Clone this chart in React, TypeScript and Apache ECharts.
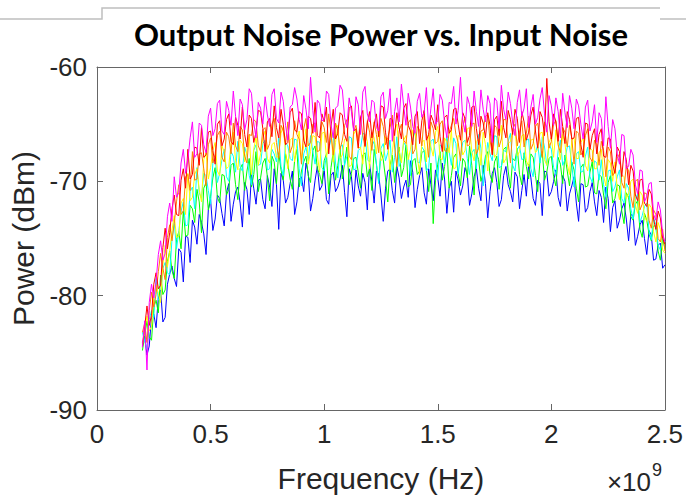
import React, { useEffect, useRef } from "react";
import * as echarts from "echarts";

// Frequency grid (units of 1e9 Hz)
const freqGHz = [
  0.2, 0.21, 0.22, 0.23, 0.24, 0.25, 0.26, 0.27, 0.28, 0.29,
  0.3, 0.31, 0.32, 0.33, 0.34, 0.35, 0.36, 0.37, 0.38, 0.39,
  0.4, 0.41, 0.42, 0.43, 0.44, 0.45, 0.46, 0.47, 0.48, 0.49,
  0.5, 0.51, 0.52, 0.53, 0.54, 0.55, 0.56, 0.57, 0.58, 0.59,
  0.6, 0.61, 0.62, 0.63, 0.64, 0.65, 0.66, 0.67, 0.68, 0.69,
  0.7, 0.71, 0.72, 0.73, 0.74, 0.75, 0.76, 0.77, 0.78, 0.79,
  0.8, 0.81, 0.82, 0.83, 0.84, 0.85, 0.86, 0.87, 0.88, 0.89,
  0.9, 0.91, 0.92, 0.93, 0.94, 0.95, 0.96, 0.97, 0.98, 0.99,
  1.0, 1.01, 1.02, 1.03, 1.04, 1.05, 1.06, 1.07, 1.08, 1.09,
  1.1, 1.11, 1.12, 1.13, 1.14, 1.15, 1.16, 1.17, 1.18, 1.19,
  1.2, 1.21, 1.22, 1.23, 1.24, 1.25, 1.26, 1.27, 1.28, 1.29,
  1.3, 1.31, 1.32, 1.33, 1.34, 1.35, 1.36, 1.37, 1.38, 1.39,
  1.4, 1.41, 1.42, 1.43, 1.44, 1.45, 1.46, 1.47, 1.48, 1.49,
  1.5, 1.51, 1.52, 1.53, 1.54, 1.55, 1.56, 1.57, 1.58, 1.59,
  1.6, 1.61, 1.62, 1.63, 1.64, 1.65, 1.66, 1.67, 1.68, 1.69,
  1.7, 1.71, 1.72, 1.73, 1.74, 1.75, 1.76, 1.77, 1.78, 1.79,
  1.8, 1.81, 1.82, 1.83, 1.84, 1.85, 1.86, 1.87, 1.88, 1.89,
  1.9, 1.91, 1.92, 1.93, 1.94, 1.95, 1.96, 1.97, 1.98, 1.99,
  2.0, 2.01, 2.02, 2.03, 2.04, 2.05, 2.06, 2.07, 2.08, 2.09,
  2.1, 2.11, 2.12, 2.13, 2.14, 2.15, 2.16, 2.17, 2.18, 2.19,
  2.2, 2.21, 2.22, 2.23, 2.24, 2.25, 2.26, 2.27, 2.28, 2.29,
  2.3, 2.31, 2.32, 2.33, 2.34, 2.35, 2.36, 2.37, 2.38, 2.39,
  2.4, 2.41, 2.42, 2.43, 2.44, 2.45, 2.46, 2.47, 2.48, 2.49,
  2.5,
];

const blueDbm = [
  -84.1, -83.6, -85.2, -84.4, -81.9, -81.6, -82.8, -80.2, -79.5, -82.3,
  -81.9, -79.0, -78.1, -77.4, -78.5, -79.2, -75.9, -76.2, -78.8, -74.8,
  -74.9, -77.1, -73.4, -74.0, -75.5, -72.9, -73.6, -74.6, -76.4, -72.5,
  -71.6, -74.3, -73.3, -71.2, -71.5, -72.8, -73.9, -71.0, -70.2, -73.5,
  -72.0, -70.9, -70.5, -71.9, -74.0, -70.1, -70.7, -72.9, -69.4, -70.6,
  -72.0, -69.9, -69.8, -71.6, -72.4, -69.5, -70.5, -72.2, -68.9, -70.3,
  -74.2, -69.3, -69.9, -71.9, -71.4, -70.2, -69.1, -72.9, -71.8, -69.8,
  -69.6, -70.9, -68.4, -69.3, -72.6, -71.5, -69.9, -68.7, -70.8, -70.4,
  -68.9, -71.6, -72.0, -69.5, -69.2, -70.9, -70.5, -69.8, -68.6, -71.0,
  -73.1, -68.9, -69.6, -71.8, -69.0, -70.4, -71.3, -69.3, -70.1, -72.5,
  -68.5, -70.0, -71.9, -69.1, -69.4, -71.2, -73.5, -70.6, -69.1, -68.9,
  -70.8, -71.9, -68.7, -69.7, -71.5, -70.5, -69.9, -71.4, -68.2, -69.2,
  -72.3, -70.7, -69.5, -68.8, -71.0, -72.0, -68.9, -70.3, -71.7, -69.0,
  -69.7, -71.3, -68.4, -69.8, -72.8, -70.6, -70.0, -72.7, -69.1, -69.9,
  -71.2, -70.4, -68.8, -69.4, -72.1, -71.1, -69.6, -68.9, -70.6, -71.7,
  -68.6, -70.2, -73.2, -70.9, -69.3, -68.8, -70.1, -72.2, -71.6, -69.5,
  -68.7, -70.3, -70.9, -71.8, -69.2, -69.6, -72.4, -70.8, -69.4, -71.3,
  -68.5, -69.7, -71.5, -72.1, -69.9, -70.2, -73.0, -69.1, -69.2, -71.3,
  -70.9, -70.0, -69.0, -71.4, -72.2, -69.5, -70.0, -72.6, -71.1, -70.4,
  -69.6, -71.9, -73.5, -70.2, -70.3, -72.7, -72.3, -70.9, -70.1, -71.8,
  -73.0, -70.8, -71.4, -73.6, -70.5, -71.5, -74.4, -72.3, -71.7, -74.1,
  -73.4, -72.4, -71.9, -73.3, -75.2, -72.9, -73.0, -75.6, -74.8, -73.8,
  -73.4, -75.0, -76.4, -74.3, -74.7, -76.9, -76.8, -75.6, -75.4, -77.6,
  -77.3,
];

const greenDbm = [
  -84.8, -83.5, -82.2, -83.6, -83.9, -81.0, -80.4, -81.5, -78.2, -79.9,
  -79.5, -77.0, -76.1, -77.8, -78.5, -75.1, -74.4, -75.9, -72.6, -74.8,
  -74.7, -72.1, -72.4, -73.6, -70.7, -71.8, -74.5, -70.6, -70.1, -72.5,
  -71.3, -69.7, -68.8, -71.4, -71.9, -69.4, -69.5, -71.2, -70.7, -68.6,
  -68.4, -70.3, -71.6, -68.9, -68.5, -70.8, -69.1, -68.0, -70.5, -69.4,
  -67.4, -70.9, -69.7, -68.4, -68.0, -69.6, -71.7, -67.8, -68.3, -70.2,
  -67.5, -69.0, -69.9, -67.6, -68.5, -69.8, -70.7, -68.1, -67.2, -70.5,
  -69.1, -68.3, -67.8, -69.5, -70.1, -67.3, -66.9, -68.9, -69.4, -70.2,
  -68.2, -67.6, -71.1, -68.8, -67.4, -69.9, -68.6, -67.1, -69.8, -68.4,
  -67.0, -70.3, -69.3, -68.0, -67.9, -69.2, -70.6, -67.7, -67.5, -69.6,
  -68.9, -70.8, -67.2, -68.5, -70.0, -67.4, -68.1, -69.7, -71.8, -68.6,
  -67.7, -70.1, -68.4, -67.0, -69.6, -68.8, -66.8, -70.5, -70.3, -68.2,
  -68.0, -69.4, -69.1, -67.5, -67.3, -69.0, -70.9, -68.4, -73.7, -69.9,
  -68.5, -67.4, -69.9, -68.7, -67.1, -70.6, -69.5, -67.9, -67.6, -69.3,
  -70.4, -68.0, -68.3, -69.7, -66.9, -68.6, -71.2, -67.5, -68.1, -70.0,
  -69.2, -67.8, -67.4, -69.4, -70.1, -68.3, -67.8, -70.7, -68.8, -67.2,
  -67.0, -69.1, -70.6, -68.0, -68.2, -67.1, -69.4, -70.3, -67.5, -68.7,
  -69.8, -67.6, -67.9, -69.5, -70.9, -68.2, -67.4, -69.9, -69.2, -68.0,
  -67.8, -69.6, -70.4, -67.9, -68.5, -70.2, -67.7, -69.1, -70.4, -68.3,
  -69.0, -70.6, -71.8, -68.8, -68.5, -70.5, -70.4, -69.2, -68.3, -71.0,
  -71.1, -69.4, -69.6, -71.2, -72.4, -70.1, -69.5, -71.9, -71.5, -70.3,
  -70.4, -72.6, -73.7, -71.0, -71.4, -73.1, -73.4, -72.0, -71.7, -74.2,
  -74.9, -72.8, -73.4, -74.6, -75.2, -73.9, -73.9, -76.1, -76.9, -75.0,
  -75.9,
];

const cyanDbm = [
  -83.2, -84.0, -84.7, -82.1, -81.3, -81.9, -78.5, -80.4, -80.1, -77.6,
  -77.1, -78.0, -78.2, -75.1, -73.6, -75.9, -74.4, -72.6, -71.8, -73.9,
  -73.8, -70.9, -70.5, -72.4, -68.8, -71.0, -71.5, -69.3, -69.5, -70.8,
  -72.0, -68.4, -67.9, -70.1, -69.3, -68.1, -67.2, -69.6, -70.0, -67.4,
  -67.8, -69.2, -66.5, -68.7, -69.1, -67.0, -67.7, -69.5, -70.3, -67.3,
  -66.8, -68.6, -68.5, -66.7, -66.4, -69.0, -68.9, -67.2, -67.6, -68.3,
  -66.1, -68.7, -69.5, -66.6, -66.9, -68.0, -68.2, -66.3, -66.4, -68.9,
  -70.4, -67.6, -67.0, -68.2, -66.0, -67.4, -68.5, -66.5, -66.6, -68.8,
  -69.1, -67.7, -67.2, -66.3, -65.8, -68.4, -69.7, -67.0, -66.8, -68.6,
  -67.8, -66.1, -66.2, -69.0, -68.9, -67.3, -67.1, -65.8, -65.9, -68.1,
  -68.3, -66.9, -66.5, -68.5, -70.2, -67.1, -66.7, -68.2, -67.5, -66.4,
  -69.2, -67.9, -66.1, -68.7, -68.1, -66.6, -66.9, -67.8, -69.5, -66.2,
  -65.7, -68.3, -68.4, -67.0, -67.3, -69.1, -68.8, -66.5, -66.3, -67.7,
  -69.9, -66.8, -67.0, -68.5, -66.0, -67.4, -68.6, -66.2, -66.7, -69.3,
  -67.9, -66.6, -66.4, -68.0, -69.4, -67.5, -67.2, -68.9, -65.9, -67.1,
  -70.4, -68.3, -66.6, -67.6, -68.2, -66.0, -66.1, -68.8, -68.7, -67.3,
  -67.4, -66.5, -65.8, -68.6, -69.1, -67.2, -66.9, -68.1, -68.0, -66.4,
  -66.3, -68.9, -69.6, -67.5, -66.8, -68.4, -66.1, -67.0, -68.6, -66.7,
  -67.2, -68.8, -69.4, -67.3, -66.4, -68.6, -68.1, -67.0, -66.9, -68.5,
  -70.5, -67.6, -67.4, -69.2, -69.1, -67.8, -67.0, -69.6, -70.1, -68.2,
  -68.4, -69.9, -68.1, -70.3, -71.4, -69.1, -69.0, -70.9, -70.5, -69.6,
  -69.0, -71.5, -71.9, -70.2, -70.6, -72.4, -73.3, -71.5, -71.1, -73.6,
  -73.0, -72.2, -71.9, -74.3, -75.1, -73.2, -73.8, -75.6, -76.0, -74.9,
  -75.3,
];

const yellowDbm = [
  -84.3, -82.9, -81.8, -83.1, -82.7, -80.1, -79.1, -79.8, -80.6, -77.3,
  -75.6, -77.5, -76.1, -74.3, -73.0, -74.9, -74.8, -71.9, -71.5, -72.9,
  -69.3, -71.7, -71.4, -69.4, -68.9, -70.7, -71.8, -68.1, -67.5, -69.8,
  -68.8, -67.3, -66.6, -69.1, -69.5, -66.9, -67.4, -68.9, -68.7, -66.6,
  -65.7, -68.2, -69.0, -66.4, -66.7, -68.3, -67.3, -65.9, -69.4, -67.2,
  -66.1, -68.6, -67.6, -66.2, -65.6, -68.0, -68.4, -66.8, -66.6, -67.9,
  -67.8, -65.8, -65.2, -67.5, -68.9, -66.4, -66.2, -68.3, -66.7, -65.6,
  -68.1, -66.9, -65.4, -68.5, -67.4, -66.0, -66.1, -67.7, -69.2, -65.8,
  -65.7, -67.9, -66.7, -65.4, -68.3, -66.6, -65.1, -68.0, -67.7, -66.3,
  -66.3, -68.7, -68.6, -65.9, -65.5, -67.1, -67.0, -68.5, -65.9, -66.5,
  -68.9, -65.7, -66.2, -67.6, -65.3, -68.2, -67.9, -66.1, -66.5, -69.0,
  -67.5, -65.6, -65.0, -67.3, -68.4, -66.4, -66.0, -68.1, -67.2, -65.5,
  -65.6, -67.8, -69.4, -66.6, -66.4, -68.3, -65.8, -67.0, -67.8, -65.7,
  -65.2, -68.0, -68.1, -66.2, -66.6, -67.5, -65.5, -68.9, -68.8, -66.0,
  -66.1, -67.7, -67.3, -65.4, -65.3, -67.4, -68.2, -66.5, -66.3, -68.6,
  -65.7, -66.8, -69.1, -65.9, -66.0, -67.9, -67.6, -66.2, -65.1, -68.4,
  -68.0, -66.7, -66.5, -65.6, -65.4, -67.8, -67.4, -66.0, -65.9, -68.2,
  -68.7, -66.4, -66.3, -67.5, -67.2, -65.8, -65.7, -68.1, -68.6, -66.6,
  -66.1, -67.9, -65.5, -66.8, -68.1, -65.9, -66.7, -68.5, -69.4, -66.4,
  -66.2, -68.0, -68.0, -66.6, -66.2, -68.6, -69.1, -67.1, -67.3, -68.9,
  -68.9, -67.5, -67.2, -69.5, -70.4, -68.1, -68.4, -70.0, -68.3, -70.6,
  -71.6, -69.4, -69.6, -71.5, -71.1, -70.0, -69.8, -72.1, -72.8, -70.9,
  -71.2, -73.1, -73.5, -72.0, -72.3, -74.4, -75.3, -73.6, -74.2, -76.0,
  -76.3,
];

const orangeDbm = [
  -83.2, -82.4, -84.1, -81.3, -79.7, -81.0, -79.9, -77.9, -76.3, -77.6,
  -78.6, -74.9, -73.8, -75.2, -73.7, -71.8, -70.3, -72.9, -72.6, -69.6,
  -69.4, -70.8, -67.4, -69.9, -69.8, -67.6, -67.5, -68.9, -70.4, -66.8,
  -66.2, -68.4, -67.6, -66.0, -65.6, -67.9, -68.3, -65.7, -66.1, -67.6,
  -64.9, -66.9, -67.4, -65.2, -65.5, -67.8, -68.4, -65.9, -66.0, -64.6,
  -64.8, -66.9, -67.4, -65.5, -65.3, -67.2, -66.7, -65.0, -64.5, -66.6,
  -68.0, -65.1, -65.6, -66.8, -64.8, -67.5, -66.9, -64.7, -65.9, -66.3,
  -68.5, -65.4, -64.5, -66.9, -66.6, -65.0, -64.9, -67.4, -67.3, -64.8,
  -65.3, -66.6, -64.1, -65.8, -67.7, -64.9, -65.6, -67.2, -66.4, -65.1,
  -64.6, -67.8, -68.1, -65.6, -65.1, -66.5, -64.4, -66.0, -67.0, -64.7,
  -65.7, -67.3, -64.8, -65.9, -67.5, -64.5, -65.2, -66.8, -66.2, -65.3,
  -64.2, -67.0, -68.7, -65.6, -65.0, -66.4, -66.7, -64.9, -64.6, -67.6,
  -67.2, -65.2, -65.5, -66.9, -64.3, -65.8, -67.9, -64.8, -65.4, -66.7,
  -66.5, -65.0, -64.7, -67.3, -67.4, -65.7, -65.1, -64.5, -65.9, -66.6,
  -68.2, -65.3, -64.4, -66.9, -66.8, -65.0, -64.9, -67.6, -67.1, -65.6,
  -65.5, -64.3, -64.2, -66.4, -67.6, -65.1, -65.3, -67.0, -66.3, -64.6,
  -64.6, -66.6, -68.4, -65.4, -65.0, -66.9, -65.7, -64.7, -67.0, -65.8,
  -64.3, -67.2, -66.7, -65.2, -64.9, -66.5, -67.9, -64.8, -65.3, -67.1,
  -66.5, -65.0, -64.7, -66.8, -67.5, -65.3, -65.7, -67.0, -65.1, -66.2,
  -68.5, -65.6, -65.8, -67.7, -67.3, -66.0, -65.4, -67.9, -68.3, -66.4,
  -66.8, -68.6, -66.5, -67.3, -69.6, -67.0, -67.4, -69.5, -69.2, -68.0,
  -67.6, -70.1, -70.6, -68.6, -69.1, -71.3, -72.3, -70.0, -69.8, -72.5,
  -72.0, -71.0, -71.1, -73.4, -74.1, -72.5, -72.9, -75.0, -75.3, -74.2,
  -76.1,
];

const redDbm = [
  -84.5, -82.7, -80.9, -82.6, -81.7, -79.0, -78.0, -79.4, -79.1, -75.8,
  -74.1, -75.9, -74.5, -72.4, -71.2, -72.9, -73.0, -69.9, -68.9, -70.6,
  -67.2, -69.8, -69.4, -67.0, -67.1, -68.6, -65.3, -67.9, -67.7, -65.7,
  -65.6, -67.3, -68.5, -65.0, -64.7, -66.9, -66.3, -64.6, -64.1, -66.5,
  -66.8, -64.4, -65.1, -66.3, -63.5, -65.9, -67.0, -64.2, -64.5, -66.6,
  -65.7, -63.8, -63.9, -65.4, -67.4, -64.8, -64.5, -66.1, -63.4, -65.3,
  -66.2, -63.7, -65.0, -66.8, -66.6, -64.0, -63.6, -65.5, -65.7, -63.9,
  -64.1, -66.4, -67.0, -64.3, -64.5, -65.8, -63.1, -66.0, -66.2, -64.1,
  -64.8, -63.5, -67.6, -65.2, -63.7, -66.3, -65.8, -64.0, -64.2, -65.9,
  -66.5, -63.6, -63.4, -65.6, -65.4, -67.1, -64.4, -63.8, -66.9, -64.9,
  -63.9, -66.2, -65.0, -64.1, -66.1, -63.4, -63.5, -65.7, -67.2, -64.5,
  -64.6, -66.0, -64.0, -65.3, -66.3, -63.6, -63.2, -65.1, -65.6, -66.8,
  -64.3, -63.9, -66.7, -64.7, -63.8, -66.4, -65.9, -64.2, -64.7, -65.5,
  -63.3, -66.1, -67.4, -64.4, -64.2, -65.8, -65.5, -63.7, -63.6, -65.0,
  -66.4, -64.0, -64.5, -66.6, -66.0, -63.5, -63.4, -65.4, -66.8, -64.3,
  -64.9, -66.2, -64.0, -65.1, -67.7, -64.6, -64.3, -66.0, -63.0, -65.3,
  -66.2, -63.8, -64.6, -65.9, -63.7, -64.5, -66.6, -63.9, -64.8, -66.4,
  -65.7, -64.2, -63.5, -65.6, -67.1, -63.9, -64.4, -66.0, -61.0, -64.8,
  -66.3, -64.1, -64.8, -66.5, -63.7, -65.2, -66.7, -63.9, -64.6, -66.3,
  -66.2, -64.5, -64.4, -66.8, -67.9, -64.9, -65.0, -67.2, -66.0, -65.4,
  -67.6, -65.9, -65.4, -67.8, -67.9, -66.2, -66.3, -68.5, -69.3, -67.0,
  -67.4, -69.6, -67.4, -68.1, -70.3, -68.6, -69.1, -71.2, -71.7, -69.9,
  -69.8, -71.9, -72.2, -70.7, -71.1, -73.3, -74.2, -72.6, -73.2, -75.0,
  -75.5,
];

const magentaDbm = [
  -84.5, -82.2, -86.5, -80.6, -79.0, -80.2, -78.8, -76.4, -75.2, -76.9,
  -76.3, -73.1, -71.9, -73.5, -69.6, -71.4, -71.0, -68.4, -67.2, -69.3,
  -68.1, -66.2, -64.8, -67.9, -67.6, -64.9, -65.1, -66.8, -67.5, -64.3,
  -63.6, -66.0, -65.4, -63.2, -62.9, -65.6, -65.9, -63.0, -63.8, -65.1,
  -62.1, -64.3, -66.0, -62.8, -63.3, -65.5, -64.6, -61.9, -62.3, -64.9,
  -66.2, -63.1, -63.6, -65.0, -62.6, -64.2, -65.2, -62.4, -61.9, -64.5,
  -64.9, -62.2, -63.0, -65.1, -66.4, -63.5, -63.3, -61.8, -62.8, -64.6,
  -65.5, -62.5, -63.7, -65.4, -60.9, -63.8, -65.7, -62.9, -63.2, -64.7,
  -64.6, -62.1, -62.4, -65.0, -66.2, -63.6, -63.4, -61.6, -62.0, -64.4,
  -65.3, -62.7, -63.9, -65.6, -62.6, -63.3, -65.9, -62.2, -61.7, -64.1,
  -64.8, -62.9, -63.1, -65.3, -65.6, -62.6, -62.2, -64.5, -63.8, -61.9,
  -66.5, -63.9, -62.7, -64.8, -61.5, -63.4, -65.1, -62.3, -63.5, -65.2,
  -65.8, -63.0, -62.3, -64.4, -64.0, -61.8, -65.4, -63.6, -61.9, -65.0,
  -64.7, -62.4, -62.9, -64.9, -66.2, -63.1, -63.2, -61.7, -65.0, -63.8,
  -60.9, -64.6, -65.7, -62.6, -63.3, -65.2, -62.1, -63.9, -65.2, -62.0,
  -63.7, -64.8, -62.5, -63.2, -66.6, -62.7, -63.0, -65.4, -61.6, -63.7,
  -64.6, -62.2, -63.2, -64.9, -66.0, -63.1, -62.0, -64.3, -63.6, -61.9,
  -65.3, -63.5, -62.4, -65.0, -64.4, -62.8, -61.8, -64.1, -65.7, -62.5,
  -63.4, -65.1, -62.7, -63.9, -66.2, -62.3, -64.0, -65.3, -62.5, -63.6,
  -65.4, -62.8, -63.4, -65.0, -66.3, -63.5, -62.9, -65.6, -64.8, -63.3,
  -66.6, -64.0, -64.5, -66.9, -62.6, -65.2, -67.1, -64.6, -65.4, -67.6,
  -68.5, -65.9, -66.0, -68.9, -68.7, -67.2, -67.7, -70.3, -71.1, -69.0,
  -69.1, -71.8, -71.3, -70.2, -70.1, -72.9, -73.4, -71.8, -72.5, -74.6,
  -75.3,
];

const xTicks = [0, 0.5, 1, 1.5, 2, 2.5];
const yTicks = [-90, -80, -70, -60];

const titleText = "Output Noise Power vs. Input Noise";
const xName = "Frequency (Hz)";
const yName = "Power (dBm)";

export default function App() {
  const ref = useRef<HTMLDivElement>(null);

  useEffect(() => {
    if (!ref.current) return;
    const chart = echarts.init(ref.current, null, { renderer: "svg" });
    const font = "'Liberation Sans', Arial, Helvetica, sans-serif";
    const textColor = "#262626";
    const boxColor = "#666666";
    const traces = [
      { name: "blue", color: "#0000ff", data: blueDbm },
      { name: "green", color: "#00ff00", data: greenDbm },
      { name: "cyan", color: "#00ffff", data: cyanDbm },
      { name: "yellow", color: "#ffff00", data: yellowDbm },
      { name: "orange", color: "#ff8000", data: orangeDbm },
      { name: "red", color: "#ff0000", data: redDbm },
      { name: "magenta", color: "#ff00ff", data: magentaDbm },
    ];

    const xMin = xTicks[0];
    const xMax = xTicks[xTicks.length - 1];
    const xStep = xTicks[1] - xTicks[0];
    const yMin = yTicks[0];
    const yMax = yTicks[yTicks.length - 1];
    const yStep = yTicks[1] - yTicks[0];

    const lineCommon = { show: true, onZero: false, lineStyle: { color: boxColor, width: 1 } };
    const tickCommon = { show: true, inside: true, length: 6, lineStyle: { color: boxColor, width: 1 } };

    chart.setOption({
      animation: false,
      backgroundColor: "#ffffff",
      grid: { left: 97, top: 67, width: 568, height: 347, containLabel: false },
      xAxis: [
        {
          type: "value",
          min: xMin,
          max: xMax,
          interval: xStep,
          position: "bottom",
          name: xName,
          nameLocation: "middle",
          nameGap: 53,
          nameTextStyle: { fontFamily: font, fontSize: 30, color: textColor },
          axisLine: lineCommon,
          axisTick: tickCommon,
          axisLabel: {
            fontFamily: font,
            fontSize: 26,
            color: textColor,
            margin: 11,
            showMinLabel: true,
            showMaxLabel: true,
          },
          splitLine: { show: false },
        },
        {
          type: "value",
          min: xMin,
          max: xMax,
          interval: xStep,
          position: "top",
          axisLine: lineCommon,
          axisTick: tickCommon,
          axisLabel: { show: false },
          splitLine: { show: false },
        },
      ],
      yAxis: [
        {
          type: "value",
          min: yMin,
          max: yMax,
          interval: yStep,
          position: "left",
          name: yName,
          nameLocation: "middle",
          nameGap: 52,
          nameRotate: 90,
          nameTextStyle: { fontFamily: font, fontSize: 30, color: textColor },
          axisLine: lineCommon,
          axisTick: tickCommon,
          axisLabel: {
            fontFamily: font,
            fontSize: 26,
            color: textColor,
            margin: 10,
            showMinLabel: true,
            showMaxLabel: true,
          },
          splitLine: { show: false },
        },
        {
          type: "value",
          min: yMin,
          max: yMax,
          interval: yStep,
          position: "right",
          axisLine: lineCommon,
          axisTick: tickCommon,
          axisLabel: { show: false },
          splitLine: { show: false },
        },
      ],
      graphic: [
        {
          type: "polyline",
          silent: true,
          shape: { points: [[0, 19], [102, 19], [102, 8], [660, 8]] },
          style: { stroke: "#bfbfbf", lineWidth: 1.5, fill: null },
        },
        {
          type: "line",
          silent: true,
          shape: { x1: 660, y1: 19, x2: 686, y2: 19 },
          style: { stroke: "#bfbfbf", lineWidth: 1.5 },
        },
        {
          type: "text",
          silent: true,
          x: 381,
          y: 34,
          style: {
            text: titleText,
            fill: "#000000",
            fontFamily: "Lato, 'Open Sans', sans-serif",
            fontWeight: "bold",
            fontSize: 31,
            align: "center",
            verticalAlign: "middle",
          },
        },
        {
          type: "text",
          silent: true,
          x: 651,
          y: 482,
          style: {
            text: "×10",
            fill: textColor,
            fontFamily: font,
            fontSize: 26,
            align: "right",
            verticalAlign: "middle",
          },
        },
        {
          type: "text",
          silent: true,
          x: 652,
          y: 470,
          style: {
            text: "9",
            fill: textColor,
            fontFamily: font,
            fontSize: 18,
            align: "left",
            verticalAlign: "middle",
          },
        },
      ],
      series: traces.map((t) => ({
        type: "line",
        name: t.name,
        xAxisIndex: 0,
        yAxisIndex: 0,
        showSymbol: false,
        symbol: "none",
        silent: true,
        data: freqGHz.map((f, i) => [f, t.data[i]]),
        lineStyle: { color: t.color, width: 1 },
        itemStyle: { color: t.color },
        emphasis: { disabled: true },
      })),
    });

    return () => {
      chart.dispose();
    };
  }, []);

  return (
    <div
      ref={ref}
      style={{ position: "fixed", left: 0, top: 0, width: 686, height: 498 }}
    />
  );
}
